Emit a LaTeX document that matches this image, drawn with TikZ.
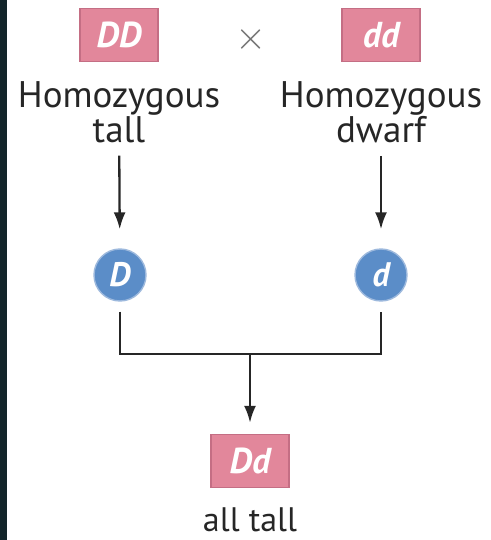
\documentclass[tikz,border=0pt]{standalone}
\usepackage{fontspec}
\setmainfont{PT Sans}
\usetikzlibrary{arrows.meta}
\definecolor{geneRose}{HTML}{E2879B}
\definecolor{geneRoseEdge}{HTML}{C46E84}
\definecolor{geneBlue}{HTML}{5B8DC8}
\definecolor{geneBlueEdge}{HTML}{9DB9DD}
\definecolor{frameDark}{HTML}{13252A}

\begin{document}
\begin{tikzpicture}[x=1pt,y=-1pt,>={Latex[length=17pt,width=12pt]},line width=2.3pt,draw=black!85]
        \tikzstyle{genotype}=[draw=geneRoseEdge,fill=geneRose,line width=1.4pt,minimum width=78pt,minimum height=53pt,inner sep=0pt,text=white,font=\fontsize{36}{36}\selectfont\bfseries\itshape]
        \tikzstyle{gamete}=[circle,draw=geneBlueEdge,fill=geneBlue,line width=1.4pt,minimum size=52pt,inner sep=0pt,text=white,font=\fontsize{34}{34}\selectfont\bfseries\itshape]
        \tikzstyle{label}=[align=center,inner sep=0pt,text=black!85,font=\fontsize{37}{32}\selectfont]

        \useasboundingbox (0,0) rectangle (490,540);
        \fill[frameDark] (0,0) rectangle (7,540);

        % parents
        \draw node at (251, 40) [text=black!55,inner sep=0pt] (cross) {\scalebox{4}{$\times$}};
        \draw node at (119, 35) [genotype] (DD) {DD};
        \draw node at (381, 35) [genotype] (dd) {dd};
        \draw node at (119, 112) [label] (tall) {Homozygous\\tall};
        \draw node at (381, 112) [label] (dwarf) {Homozygous\\dwarf};

        % gametes
        \draw node at (120, 275) [gamete] (D) {D};
        \draw node at (381, 275) [gamete] (d) {d};

        % offspring
        \draw node at (250, 461) [genotype] (Dd) {Dd};
        \draw node at (250, 520) [label,font=\fontsize{34}{34}\selectfont] (offspring) {all tall};

        \draw [->, shorten <=12pt, shorten >=19pt] (tall) to (D);
        \draw [->, shorten <=12pt, shorten >=19pt] (dwarf) to (d);
        \coordinate (merge) at (250, 354);
        \draw ([yshift=-10pt]D.south) |- (merge) -| ([yshift=-10pt]d.south);
        \draw [->, shorten >=11pt] (merge) to (Dd);
    \end{tikzpicture}
\end{document}
